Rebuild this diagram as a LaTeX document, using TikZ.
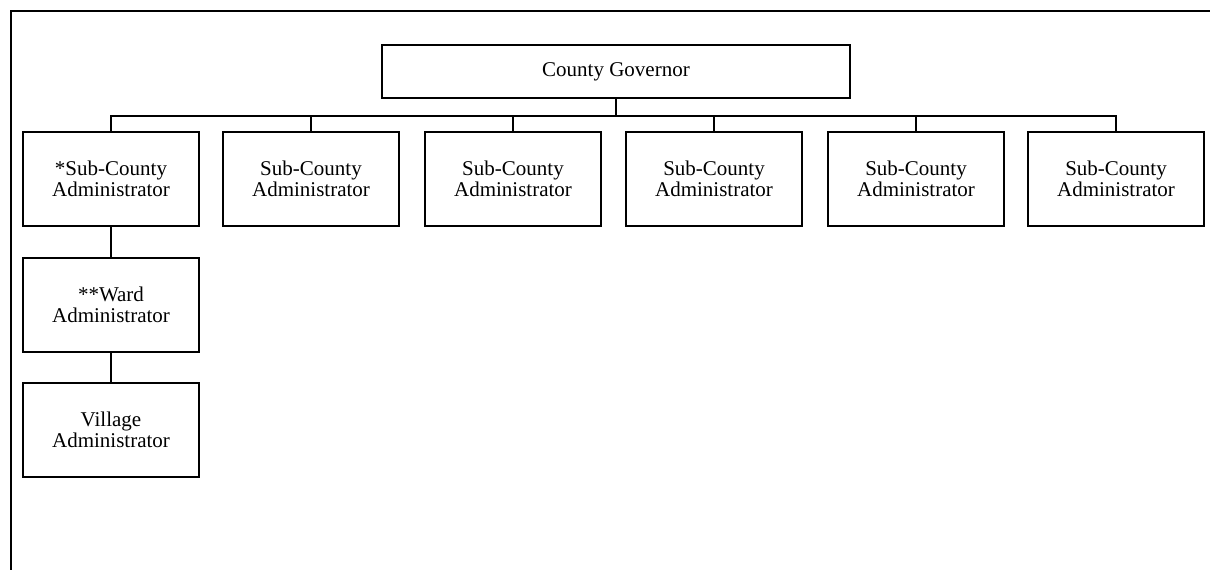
\documentclass[tikz,border=0pt]{standalone}
\usepackage{fontspec}
\setmainfont{Liberation Serif}
\begin{document}
\begin{tikzpicture}[x=1pt,y=-1pt,
  orgbox/.style={draw,line width=2.4pt,minimum width=176pt,minimum height=94pt,
    inner sep=0pt,align=center,font=\fontsize{21}{21}\selectfont},
  link/.style={line width=2.4pt}]
  \useasboundingbox (0,0) rectangle (1210,570);
  \clip (0,0) rectangle (1210,570);
  % outer frame (open to the right and bottom)
  \draw[line width=2pt] (11,580) -- (11,11) -- (1220,11);

  % top of the hierarchy
  \node[orgbox,minimum width=468pt,minimum height=53pt] (gov) at (616,71.5) {County Governor};
  \coordinate (bus) at (616,116);

  % sub-county row
  \node[orgbox] (s1) at (111,179) {*Sub-County\\Administrator};
  \node[orgbox] (s2) at (311,179) {Sub-County\\Administrator};
  \node[orgbox] (s3) at (513,179) {Sub-County\\Administrator};
  \node[orgbox] (s4) at (714,179) {Sub-County\\Administrator};
  \node[orgbox] (s5) at (916,179) {Sub-County\\Administrator};
  \node[orgbox] (s6) at (1116,179) {Sub-County\\Administrator};

  % lower levels
  \node[orgbox] (ward) at (111,305) {**Ward\\Administrator};
  \node[orgbox] (vil) at (111,430) {Village\\Administrator};

  % connectors
  \draw[link] (gov.south) -- (bus);
  \draw[link] (s1.north) |- (bus) -| (s6.north);
  \foreach \n in {s2,s3,s4,s5}
    \draw[link] (\n.north) -- (\n.north |- bus);
  \draw[link] (s1.south) -- (ward.north);
  \draw[link] (ward.south) -- (vil.north);
\end{tikzpicture}
\end{document}
